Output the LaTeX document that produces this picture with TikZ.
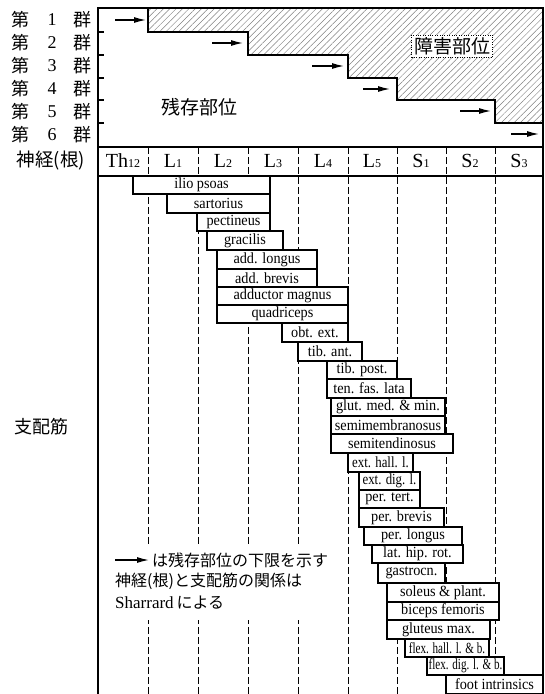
\documentclass[tikz,border=0pt]{standalone}
\usepackage{fontspec}
\usepackage{graphicx}
\setmainfont{Liberation Serif}
\newfontfamily\cjk{Noto Sans CJK JP}
\usetikzlibrary{arrows.meta,patterns.meta}
\newcommand{\hsb}[1]{{\fontsize{12}{12}\selectfont #1}}
\newcommand{\msc}[6]{\node[muscle, minimum width={(#4-#2)*1pt}, minimum height={(#5-#3)*1pt}] (#1) at ({(#2+#4)/2},{(#3+#5)/2}) {\scalebox{0.92}[1]{#6}};}
\begin{document}
\begin{tikzpicture}[x=1pt,y=-1pt,
  frame/.style={line width=1.3pt},
  dsh/.style={line width=0.9pt, dash pattern=on 7pt off 3pt},
  muscle/.style={draw, fill=white, line width=1.1pt, inner sep=0pt, font=\fontsize{15.5}{16}\selectfont},
  hdr/.style={font=\fontsize{20}{20}\selectfont},
  grp/.style={font=\fontsize{18}{18}\selectfont},
  arr/.style={line width=1.3pt, -{Latex[length=12pt,width=6pt]}},
  leg/.style={anchor=west, inner sep=0pt, font=\fontsize{16}{16}\selectfont}]
\useasboundingbox (0,0) rectangle (545,694);
% hatched impaired region
\fill[pattern={Lines[angle=45,distance=4.5pt,line width=0.5pt]}, pattern color=black!50]
  (148,8) -- (148,32) -- (248,32) -- (248,55) -- (348,55) -- (348,78) -- (397,78) -- (397,100)
  -- (495,100) -- (495,123) -- (543,123) -- (543,8) -- cycle;
\draw[line width=1.6pt] (148,8) -- (148,32) -- (248,32) -- (248,55) -- (348,55) -- (348,78)
  -- (397,78) -- (397,100) -- (495,100) -- (495,123) -- (543,123);
\node[draw, dotted, fill=white, inner sep=2.5pt, font=\cjk\fontsize{19}{19}\selectfont] (shogai) at (452,46) {障害部位};
\node[font=\cjk\fontsize{19}{19}\selectfont] (zanson) at (199,107) {残存部位};
% arrows in rows
\coordinate (a1s) at (115,20); \coordinate (a1e) at (146,20);
\coordinate (a2s) at (212,43); \coordinate (a2e) at (243,43);
\coordinate (a3s) at (312,66); \coordinate (a3e) at (344,66);
\coordinate (a4s) at (363,89); \coordinate (a4e) at (390,89);
\coordinate (a5s) at (460,111); \coordinate (a5e) at (491,111);
\coordinate (a6s) at (511,134); \coordinate (a6e) at (539,134);
\foreach \i in {1,...,6} \draw[arr] (a\i s) -- (a\i e);
% group labels
\foreach \i/\y in {1/20,2/43,3/66,4/89,5/112,6/135}{
  \node[grp, font=\cjk\fontsize{18}{18}\selectfont] (ga\i) at (20,\y) {第};
  \node[grp] (gb\i) at (52,\y) {\i};
  \node[grp, font=\cjk\fontsize{18}{18}\selectfont] (gc\i) at (82,\y) {群};
}
\node[font=\cjk\fontsize{18.5}{19}\selectfont] (shinkei) at (51,161) {神経(根)};
\node[font=\cjk\fontsize{18}{18}\selectfont] (shihai) at (42,427) {支配筋};
% header labels
\node[hdr] (hTh) at (123,161) {Th\hsb{12}};
\node[hdr] (hL1) at (173,161) {L\hsb{1}};
\node[hdr] (hL2) at (223,161) {L\hsb{2}};
\node[hdr] (hL3) at (273,161) {L\hsb{3}};
\node[hdr] (hL4) at (323,161) {L\hsb{4}};
\node[hdr] (hL5) at (372,161) {L\hsb{5}};
\node[hdr] (hS1) at (421,161) {S\hsb{1}};
\node[hdr] (hS2) at (470,161) {S\hsb{2}};
\node[hdr] (hS3) at (519,161) {S\hsb{3}};
% dashed column lines
\foreach \x in {148,198,248,298,348,397,446,495} \draw[dsh] (\x,147) -- (\x,694);
% legend
\fill[white] (110,545) rectangle (336,620);
\coordinate (ls) at (115,560); \coordinate (le) at (149,560);
\draw[arr] (ls) -- (le);
\node[leg] (leg1) at (152,560) {\cjk は残存部位の下限を示す};
\node[leg] (leg2) at (115,581) {\cjk 神経(根)と支配筋の関係は};
\node[leg] (leg3) at (115,603) {\fontsize{17}{17}\selectfont Sharrard\,{\cjk\fontsize{16}{16}\selectfont による}};
% muscles
\msc{m1}{133}{176}{270}{194}{ilio psoas}
\msc{m2}{167}{194}{270}{213}{sartorius}
\msc{m3}{197}{213}{270}{231}{pectineus}
\msc{m4}{207}{231}{283}{250}{gracilis}
\msc{m5}{217}{250}{317}{269}{add. longus}
\msc{m6}{217}{269}{317}{287}{add. brevis}
\msc{m7}{217}{287}{348}{305}{adductor magnus}
\msc{m8}{217}{305}{348}{323}{quadriceps}
\msc{m9}{282}{323}{348}{342}{obt. ext.}
\msc{m10}{298}{342}{362}{361}{tib. ant.}
\msc{m11}{327}{361}{397}{379}{tib. post.}
\msc{m12}{327}{379}{411}{398}{ten. fas. lata}
\msc{m13}{331}{398}{445}{416}{glut. med. \& min.}
\msc{m14}{331}{416}{445}{434}{semimembranosus}
\msc{m15}{331}{434}{453}{453}{semitendinosus}
\msc{m16}{348}{453}{413}{472}{\scalebox{0.9}[1]{ext. hall. l.}}
\msc{m17}{359}{472}{420}{490}{\scalebox{0.9}[1]{ext. dig. l.}}
\msc{m18}{359}{490}{420}{508}{per. tert.}
\msc{m19}{359}{508}{444}{527}{per. brevis}
\msc{m20}{364}{527}{462}{545}{per. longus}
\msc{m21}{372}{545}{463}{563}{lat. hip. rot.}
\msc{m22}{378}{563}{445}{583}{gastrocn.}
\msc{m23}{387}{583}{499}{602}{soleus \& plant.}
\msc{m24}{387}{602}{499}{620}{biceps femoris}
\msc{m25}{387}{620}{490}{639}{gluteus max.}
\msc{m26}{405}{639}{489}{657}{\scalebox{0.78}[1]{flex. hall. l. \& b.}}
\msc{m27}{427}{657}{504}{675}{\scalebox{0.78}[1]{flex. dig. l. \& b.}}
\msc{m28}{446}{675}{543}{694}{foot intrinsics}
% frame
\draw[frame] (98,694) -- (98,8) -- (543,8) -- (543,694);
\draw[frame] (98,147) -- (543,147);
\draw[frame] (98,176) -- (543,176);
\foreach \y in {32,55,78,100,123} \draw[frame] (98,\y) -- (104,\y);
\end{tikzpicture}
\end{document}
